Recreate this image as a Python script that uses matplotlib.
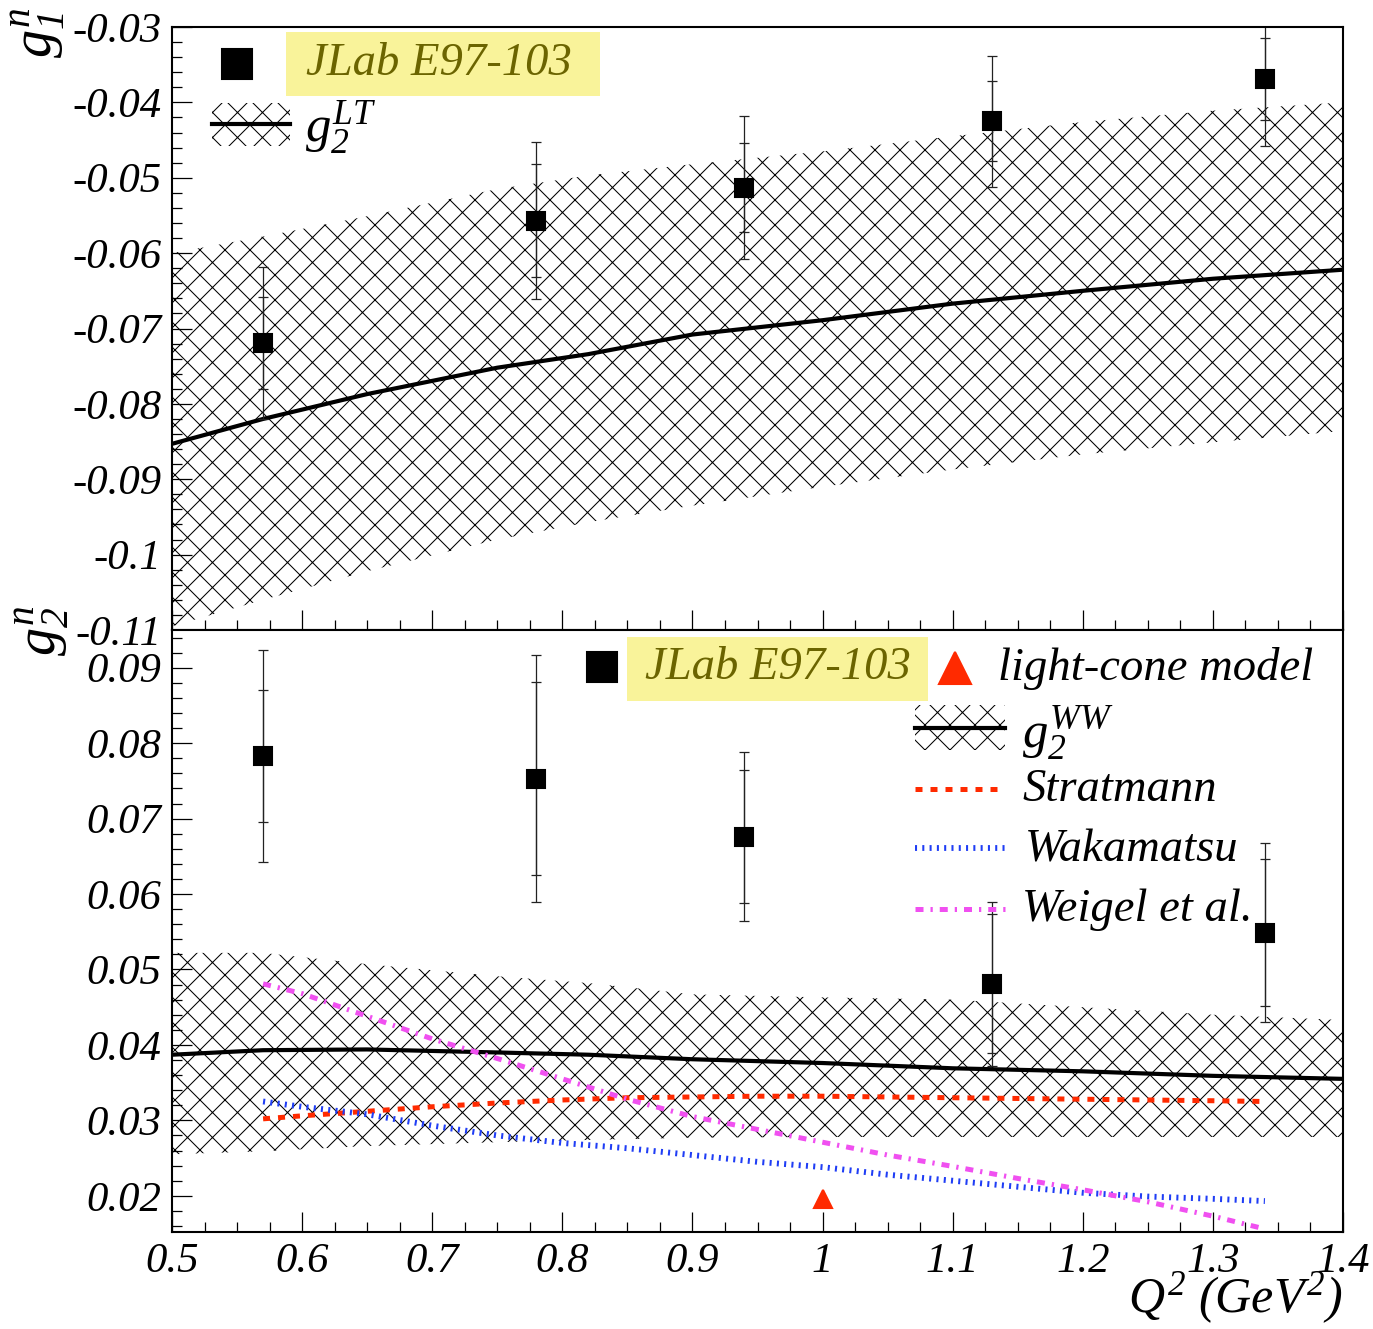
import matplotlib
matplotlib.use("Agg")
import matplotlib.pyplot as plt
from matplotlib.ticker import MultipleLocator, AutoMinorLocator, FuncFormatter
from matplotlib.patches import Rectangle
from matplotlib.lines import Line2D

plt.rcParams['font.family'] = ['Liberation Serif', 'DejaVu Serif']
plt.rcParams['font.style'] = 'italic'
plt.rcParams['mathtext.fontset'] = 'custom'
plt.rcParams['mathtext.it'] = 'Liberation Serif:italic'
plt.rcParams['mathtext.rm'] = 'Liberation Serif:italic'
plt.rcParams['hatch.linewidth'] = 0.5

# JLab E97-103 data points
q2 = [0.57, 0.78, 0.94, 1.13, 1.34]
g1n = [-0.0719, -0.0557, -0.0513, -0.0425, -0.0369]
g1n_stat = [0.0061, 0.0075, 0.0059, 0.0053, 0.0054]
g1n_tot = [0.0101, 0.0104, 0.0095, 0.0087, 0.0089]
g2n = [0.0783, 0.0753, 0.0676, 0.0481, 0.0549]
g2n_stat = [0.0088, 0.0128, 0.0088, 0.0092, 0.0098]
g2n_tot = [0.0140, 0.0164, 0.0112, 0.0109, 0.0119]

# g2 LT (top) and g2 WW (bottom) curves with bands
q2_band = [0.5, 0.57, 0.65, 0.75, 0.82, 0.9, 1.0, 1.1, 1.2, 1.3, 1.4]
g2lt = [-0.0853, -0.0820, -0.0787, -0.0752, -0.0734, -0.0708, -0.0689, -0.0667, -0.0650, -0.0634, -0.0622]
g2lt_hi = [-0.0600, -0.0578, -0.0551, -0.0515, -0.0497, -0.0482, -0.0465, -0.0445, -0.0426, -0.0411, -0.0400]
g2lt_lo = [-0.1095, -0.1060, -0.1022, -0.0980, -0.0957, -0.0935, -0.0910, -0.0887, -0.0867, -0.0851, -0.0836]
g2ww = [0.0387, 0.0393, 0.0394, 0.0390, 0.0387, 0.0381, 0.0376, 0.0369, 0.0365, 0.0359, 0.0355]
g2ww_hi = [0.0522, 0.0522, 0.0507, 0.0491, 0.0482, 0.0467, 0.0463, 0.0460, 0.0450, 0.0440, 0.0433]
g2ww_lo = [0.0255, 0.0259, 0.0266, 0.0271, 0.0274, 0.0277, 0.0278, 0.0278, 0.0278, 0.0278, 0.0278]

# model curves
q2_model = [0.57, 0.6, 0.65, 0.7, 0.75, 0.8, 0.85, 0.9, 0.95, 1.0, 1.05, 1.1, 1.15, 1.2, 1.25, 1.3, 1.34]
stratmann = [0.0302, 0.0306, 0.0312, 0.0318, 0.0323, 0.0327, 0.0330, 0.0331, 0.0332, 0.0332, 0.0331,
             0.0330, 0.0329, 0.0328, 0.0327, 0.0326, 0.0325]
wakamatsu = [0.0325, 0.0318, 0.0308, 0.0293, 0.0280, 0.0270, 0.0263, 0.0254, 0.0245, 0.0238, 0.0228,
             0.0220, 0.0212, 0.0204, 0.0199, 0.0196, 0.0193]
weigel = [0.0481, 0.0468, 0.0438, 0.0408, 0.0382, 0.0355, 0.0328, 0.0305, 0.0288, 0.0271, 0.0254,
          0.0239, 0.0223, 0.0208, 0.0192, 0.0173, 0.0156]

lightcone_q2 = [1.0]
lightcone_g2 = [0.0196]

W, H = 1373, 1329
fig = plt.figure(figsize=(W / 150, H / 150), dpi=150)


def fx(x):
    return x / W


def fy(y):
    return 1 - y / H


ax1 = fig.add_axes([fx(172), fy(630), fx(1343) - fx(172), fy(27) - fy(630)])
ax2 = fig.add_axes([fx(172), fy(1232), fx(1343) - fx(172), fy(630) - fy(1232)])

red = '#ff2a00'
blue = '#1f3df5'
magenta = '#f050f0'
dash_red = (0, (1.4, 1.6))
dash_blue = (0, (0.35, 0.9))
dash_mag = (0, (1.6, 1.4, 0.45, 1.4))
fmt = FuncFormatter(lambda v, _: f"{v:g}")

for ax in (ax1, ax2):
    ax.set_xlim(0.5, 1.4)
    ax.xaxis.set_major_locator(MultipleLocator(0.1))
    ax.xaxis.set_minor_locator(AutoMinorLocator(4))
    ax.yaxis.set_major_locator(MultipleLocator(0.01))
    ax.yaxis.set_minor_locator(AutoMinorLocator(5))
    ax.yaxis.set_major_formatter(fmt)
    ax.xaxis.set_major_formatter(fmt)
    ax.tick_params(which='both', direction='in', top=False, right=False, width=0.6, labelsize=20.5, pad=5)
    ax.tick_params(which='major', length=9.6)
    ax.tick_params(which='minor', length=4.8)
    for s in ax.spines.values():
        s.set_linewidth(1.0)

ax1.set_ylim(-0.11, -0.03)
ax2.set_ylim(0.0152, 0.095)
ax1.tick_params(axis='x', labelbottom=False)

# top panel
ax1.fill_between(q2_band, g2lt_lo, g2lt_hi, facecolor='none', edgecolor='k', hatch='xx', linewidth=0)
ax1.plot(q2_band, g2lt, color='k', lw=2.0)
ax1.errorbar(q2, g1n, yerr=g1n_tot, fmt='none', ecolor='#222222', elinewidth=0.6, capsize=2.6, capthick=0.6)
ax1.errorbar(q2, g1n, yerr=g1n_stat, fmt='none', ecolor='#222222', elinewidth=0.6, capsize=2.6, capthick=0.6)
ax1.plot(q2, g1n, 's', color='k', ms=8.5, zorder=5)

# bottom panel
ax2.fill_between(q2_band, g2ww_lo, g2ww_hi, facecolor='none', edgecolor='k', hatch='xx', linewidth=0)
ax2.plot(q2_band, g2ww, color='k', lw=2.0)
ax2.plot(q2_model, stratmann, color=red, lw=2.4, ls=dash_red)
ax2.plot(q2_model, wakamatsu, color=blue, lw=2.8, ls=dash_blue)
ax2.plot(q2_model, weigel, color=magenta, lw=2.4, ls=dash_mag)
ax2.errorbar(q2, g2n, yerr=g2n_tot, fmt='none', ecolor='#222222', elinewidth=0.6, capsize=2.6, capthick=0.6)
ax2.errorbar(q2, g2n, yerr=g2n_stat, fmt='none', ecolor='#222222', elinewidth=0.6, capsize=2.6, capthick=0.6)
ax2.plot(q2, g2n, 's', color='k', ms=8.5, zorder=5)
ax2.plot(lightcone_q2, lightcone_g2, '^', color=red, ms=8.5, zorder=5)

# axis titles
fig.text(fx(38), fy(8), '$g_1^n$', rotation=90, ha='center', va='top', fontsize=27)
fig.text(fx(42), fy(606), '$g_2^n$', rotation=90, ha='center', va='top', fontsize=27)
fig.text(fx(1343), fy(1298), '$Q^2\\ (GeV^2)$', ha='right', va='center', fontsize=24)

# legends
yellow = '#f9f39a'
olive = '#6b6400'
lg = 22.4


def square(x, y, marker='s', color='k', ms=14):
    fig.add_artist(Line2D([fx(x)], [fy(y)], marker=marker, color=color, ms=ms, ls='none',
                          transform=fig.transFigure))


def sample(x0, x1, y, **kw):
    fig.add_artist(Line2D([fx(x0), fx(x1)], [fy(y), fy(y)], transform=fig.transFigure, **kw))


def hatch_box(x0, x1, y0, y1):
    fig.add_artist(Rectangle((fx(x0), fy(y1)), fx(x1) - fx(x0), fy(y0) - fy(y1), transform=fig.transFigure,
                             facecolor='none', edgecolor='k', hatch='xx', lw=0))


# top legend
square(237, 64)
fig.add_artist(Rectangle((fx(286), fy(96)), fx(600) - fx(286), fy(32) - fy(96), transform=fig.transFigure,
                         facecolor=yellow, edgecolor='none'))
fig.text(fx(306), fy(64), 'JLab E97-103', ha='left', va='center', fontsize=lg, color=olive)
hatch_box(212, 290, 103, 146)
sample(212, 290, 124, color='k', lw=2.0)
fig.text(fx(305), fy(128), '$g_2^{LT}$', ha='left', va='center', fontsize=lg + 2)

# bottom legend
square(602, 667)
fig.add_artist(Rectangle((fx(627), fy(701)), fx(928) - fx(627), fy(637) - fy(701), transform=fig.transFigure,
                         facecolor=yellow, edgecolor='none'))
fig.text(fx(645), fy(668), 'JLab E97-103', ha='left', va='center', fontsize=lg, color=olive)
square(955, 668, marker='^', color=red, ms=15)
fig.text(fx(998), fy(668), 'light-cone model', ha='left', va='center', fontsize=lg)
hatch_box(915, 1005, 705, 750)
sample(915, 1005, 728, color='k', lw=2.0)
fig.text(fx(1022), fy(733), '$g_2^{WW}$', ha='left', va='center', fontsize=lg + 2)
sample(915, 1005, 789, color=red, lw=2.4, ls=dash_red)
fig.text(fx(1022), fy(790), 'Stratmann', ha='left', va='center', fontsize=lg)
sample(915, 1005, 848, color=blue, lw=2.8, ls=dash_blue)
fig.text(fx(1025), fy(850), 'Wakamatsu', ha='left', va='center', fontsize=lg)
sample(915, 1005, 909, color=magenta, lw=2.4, ls=dash_mag)
fig.text(fx(1022), fy(910), 'Weigel et al.', ha='left', va='center', fontsize=lg)

fig.savefig('out.png', dpi=150)
